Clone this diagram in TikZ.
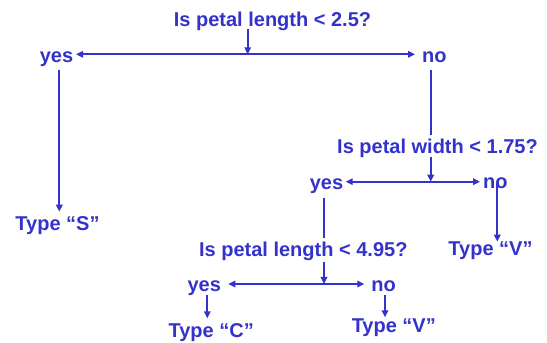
\documentclass[tikz,border=0pt]{standalone}
\usepackage{fontspec}
\setmainfont{Liberation Sans}
\usetikzlibrary{arrows.meta}
\definecolor{dblue}{RGB}{51,51,204}
\tikzset{
  lbl/.style={anchor=base, inner sep=0pt, text=dblue, font=\fontsize{20}{24}\selectfont\bfseries},
  ln/.style={draw=dblue, line width=2pt},
  arr/.style={ln, -{Triangle[length=7pt,width=6.5pt]}}
}
\begin{document}
\begin{tikzpicture}[x=1pt,y=1pt]
\useasboundingbox[fill=white] (0,0) rectangle (547,343);
% text nodes
\node[lbl] (q1) at (272.5,316) {Is petal length < 2.5?};
\node[lbl] (yes1) at (56.5,280) {yes};
\node[lbl] (no1) at (434.4,280.3) {no};
\node[lbl] (ts) at (57.5,112) {Type “S”};
\node[lbl] (q2) at (437.5,189) {Is petal width < 1.75?};
\node[lbl] (yes2) at (326.5,153) {yes};
\node[lbl] (no2) at (495.3,154) {no};
\node[lbl] (tv1) at (490.5,87) {Type “V”};
\node[lbl] (q3) at (303.3,86.3) {Is petal length < 4.95?};
\node[lbl] (yes3) at (204.3,51.3) {yes};
\node[lbl] (no3) at (383.7,51.3) {no};
\node[lbl] (tc) at (211.2,5.7) {Type “C”};
\node[lbl] (tv2) at (393.8,10.3) {Type “V”};
% connector points
\coordinate (q1s) at (247.7,314);
\coordinate (j1) at (247.7,288.7);
\coordinate (y1t) at (76,288.7);
\coordinate (n1t) at (415,288.7);
\coordinate (a1top) at (59.3,273);
\coordinate (a1bot) at (59.3,131.3);
\coordinate (b1top) at (431,273);
\coordinate (b1bot) at (431,208);
\coordinate (q2s) at (430.7,186.3);
\coordinate (j2) at (430.7,161.3);
\coordinate (y2t) at (345.7,161.3);
\coordinate (n2t) at (480,161.3);
\coordinate (c2top) at (324,145.3);
\coordinate (c2bot) at (324,105);
\coordinate (d2top) at (497.3,160);
\coordinate (d2bot) at (497.3,101.3);
\coordinate (q3s) at (324,81);
\coordinate (j3) at (324,59);
\coordinate (y3t) at (228.3,59);
\coordinate (n3t) at (364.3,59);
\coordinate (e3top) at (207.3,48);
\coordinate (e3bot) at (207.3,24.7);
\coordinate (f3top) at (385,48);
\coordinate (f3bot) at (385,25.7);
% connectors
\draw[arr] (q1s) -- (j1);
\draw[arr] (j1) -- (y1t);
\draw[arr] (j1) -- (n1t);
\draw[arr] (a1top) -- (a1bot);
\draw[ln] (b1top) -- (b1bot);
\draw[arr] (q2s) -- (j2);
\draw[arr] (j2) -- (y2t);
\draw[arr] (j2) -- (n2t);
\draw[ln] (c2top) -- (c2bot);
\draw[arr] (d2top) -- (d2bot);
\draw[arr] (q3s) -- (j3);
\draw[arr] (j3) -- (y3t);
\draw[arr] (j3) -- (n3t);
\draw[arr] (e3top) -- (e3bot);
\draw[arr] (f3top) -- (f3bot);
\end{tikzpicture}
\end{document}
